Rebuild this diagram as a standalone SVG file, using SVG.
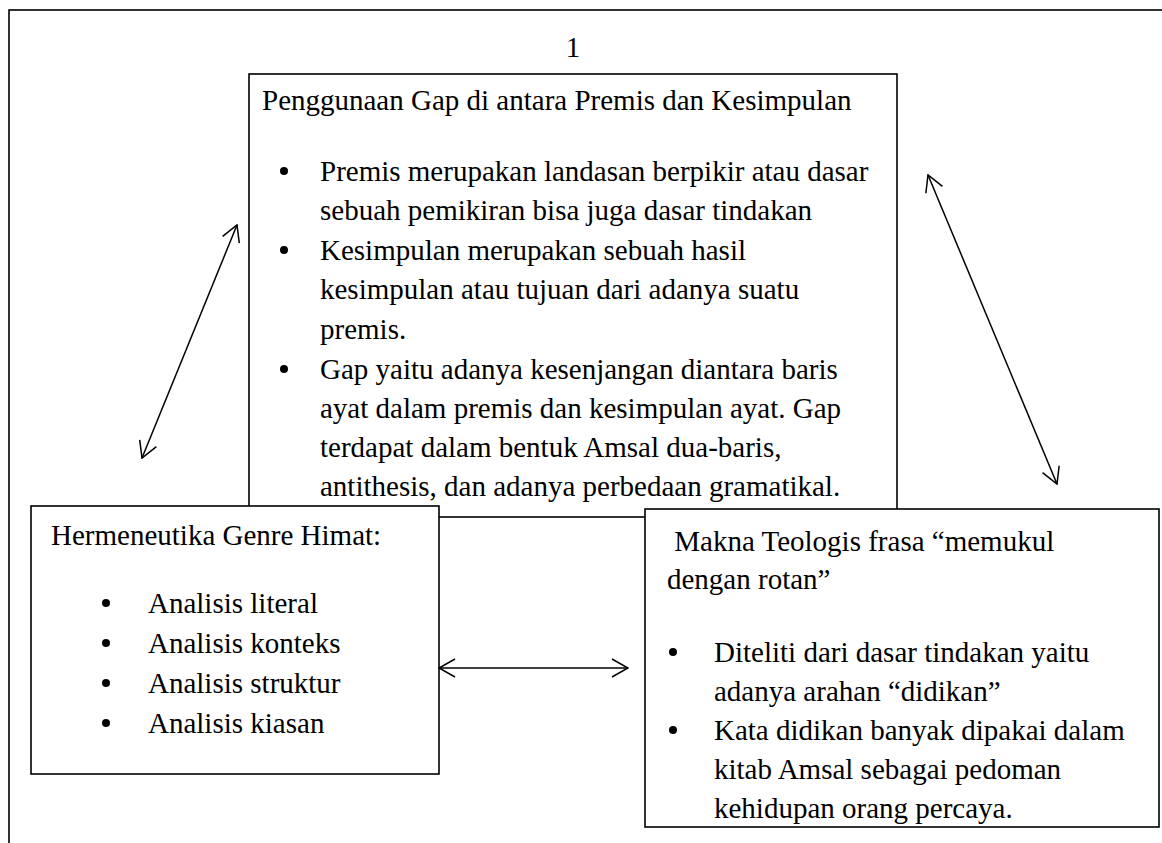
<svg xmlns="http://www.w3.org/2000/svg" width="1162" height="843" viewBox="0 0 1162 843">
<style>
text{font-family:"Liberation Serif","Times New Roman",serif;font-size:29px;fill:#000}
.box{fill:#fff;stroke:#000;stroke-width:1.6}
.frame{fill:none;stroke:#000;stroke-width:1.6}
.conn{stroke:#000;stroke-width:1.5;fill:none;marker-start:url(#ah);marker-end:url(#ah)}
.dot{fill:#000}
</style>
<defs>
<marker id="ah" viewBox="0 0 18 20" refX="17" refY="10" markerWidth="18" markerHeight="20" markerUnits="userSpaceOnUse" orient="auto-start-reverse">
<path d="M1,1 L17,10 L1,19" fill="none" stroke="#000" stroke-width="1.5"/>
</marker>
</defs>
<rect class="frame" x="9" y="10" width="1200" height="900"/>
<text x="573" y="57" text-anchor="middle">1</text>
<g id="node-gap">
<rect class="box" x="249" y="74" width="648" height="443"/>
<text x="262" y="110">Penggunaan Gap di antara Premis dan Kesimpulan</text>
<circle class="dot" cx="284" cy="171" r="4"/>
<text x="320" y="181">Premis merupakan landasan berpikir atau dasar</text>
<text x="320" y="220">sebuah pemikiran bisa juga dasar tindakan</text>
<circle class="dot" cx="284" cy="250" r="4"/>
<text x="320" y="260">Kesimpulan merupakan sebuah hasil</text>
<text x="320" y="299">kesimpulan atau tujuan dari adanya suatu</text>
<text x="320" y="339">premis.</text>
<circle class="dot" cx="284" cy="369" r="4"/>
<text x="320" y="379">Gap yaitu adanya kesenjangan diantara baris</text>
<text x="320" y="418">ayat dalam premis dan kesimpulan ayat. Gap</text>
<text x="320" y="457">terdapat dalam bentuk Amsal dua-baris,</text>
<text x="320" y="496">antithesis, dan adanya perbedaan gramatikal.</text>
</g>
<g id="node-hermeneutika">
<rect class="box" x="31" y="506" width="408" height="268"/>
<text x="51" y="545">Hermeneutika Genre Himat:</text>
<circle class="dot" cx="106" cy="603" r="4"/>
<text x="148" y="613">Analisis literal</text>
<circle class="dot" cx="106" cy="643" r="4"/>
<text x="148" y="653">Analisis konteks</text>
<circle class="dot" cx="106" cy="683" r="4"/>
<text x="148" y="693">Analisis struktur</text>
<circle class="dot" cx="106" cy="723" r="4"/>
<text x="148" y="733">Analisis kiasan</text>
</g>
<g id="node-makna">
<rect class="box" x="645" y="509" width="514" height="318"/>
<text x="667" y="551" xml:space="preserve"> Makna Teologis frasa “memukul</text>
<text x="667" y="589">dengan rotan”</text>
<circle class="dot" cx="673" cy="652" r="4"/>
<text x="714" y="662">Diteliti dari dasar tindakan yaitu</text>
<text x="714" y="701">adanya arahan “didikan”</text>
<circle class="dot" cx="673" cy="730" r="4"/>
<text x="714" y="740">Kata didikan banyak dipakai dalam</text>
<text x="714" y="779">kitab Amsal sebagai pedoman</text>
<text x="714" y="818">kehidupan orang percaya.</text>
</g>
<g id="connectors">
<line class="conn" x1="142" y1="458" x2="237" y2="225"/>
<line class="conn" x1="928" y1="175" x2="1057" y2="484"/>
<line class="conn" x1="439" y1="668" x2="628" y2="668"/>
</g>
</svg>
